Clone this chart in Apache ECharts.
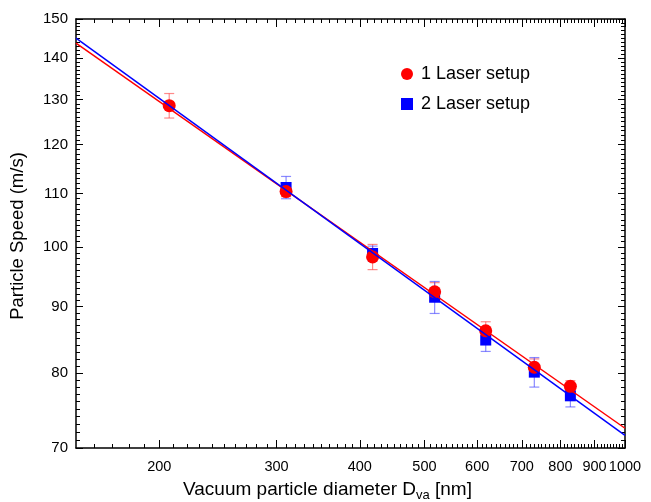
<!DOCTYPE html>
<html><head><meta charset="utf-8">
<script src="https://cdn.jsdelivr.net/npm/echarts@6/dist/echarts.min.js"></script>
<style>html,body{margin:0;padding:0;background:#fff}#c{width:651px;height:502px}</style>
</head><body><div id="c"></div>
<script>
// ---- data ----
const diam1 = [207, 310, 418, 518, 618, 731, 828];
const speed1 = [128.6, 110.4, 98.3, 92.4, 86.2, 80.8, 78.1];
const err1 = [2.8, 1.0, 2.2, 1.5, 1.4, 1.2, 0.8];
const diam2 = [310, 418, 518, 618, 731, 828];
const speed2 = [111.2, 98.9, 91.5, 84.8, 80.1, 76.8];
const err2 = [2.2, 1.3, 2.6, 1.7, 2.1, 1.5];
const fitX = [150, 1000];
const fit1 = [143.7, 72.5];
const fit2 = [145.0, 71.6];
const xTicks = [200, 300, 400, 500, 600, 700, 800, 900, 1000];
const yTicks = [70, 80, 90, 100, 110, 120, 130, 140, 150];
const xMinorTicks = [];
for (let v = 160; v < 1000; v += 10) if (xTicks.indexOf(v) < 0) xMinorTicks.push(v);
const yMinorTicks = [];
for (let v = 71; v < 150; v += 1) if (yTicks.indexOf(v) < 0) yMinorTicks.push(v);

const FONT = '"Liberation Sans", Arial, Helvetica, sans-serif';

function xAx(pos, ticks, len, showLabel, showLine) {
  return {
    type: 'log', logBase: 10, min: 150, max: 1000, position: pos,
    axisLine: { show: showLine, lineStyle: { color: '#000', width: 1.5 } },
    axisTick: { show: true, inside: true, length: len, customValues: ticks, lineStyle: { color: '#000', width: 1 } },
    axisLabel: { show: showLabel, customValues: ticks, margin: 11, color: '#000', fontSize: 14.5, fontFamily: FONT,
      formatter: v => String(Math.round(v)) },
    splitLine: { show: false }, minorTick: { show: false }, minorSplitLine: { show: false }
  };
}
function yAx(pos, ticks, len, showLabel, showLine) {
  return {
    type: 'log', logBase: 10, min: 70, max: 150, position: pos,
    axisLine: { show: showLine, lineStyle: { color: '#000', width: 1.5 } },
    axisTick: { show: true, inside: true, length: len, customValues: ticks, lineStyle: { color: '#000', width: 1 } },
    axisLabel: { show: showLabel, customValues: ticks, margin: 8, color: '#000', fontSize: 15, fontFamily: FONT,
      formatter: v => String(Math.round(v)) },
    splitLine: { show: false }, minorTick: { show: false }, minorSplitLine: { show: false }
  };
}

function errSeries(xs, ys, es, color, z) {
  return {
    type: 'custom', xAxisIndex: 0, yAxisIndex: 0, z: z, silent: true,
    data: xs.map((x, i) => [x, ys[i] - es[i], ys[i] + es[i]]),
    encode: { x: 0, y: [1, 2] },
    renderItem: (params, api) => {
      const lo = api.coord([api.value(0), api.value(1)]);
      const hi = api.coord([api.value(0), api.value(2)]);
      const w = 5;
      const st = { stroke: color, lineWidth: 1.2 };
      return { type: 'group', children: [
        { type: 'line', shape: { x1: lo[0], y1: lo[1], x2: hi[0], y2: hi[1] }, style: st },
        { type: 'line', shape: { x1: lo[0] - w, y1: lo[1], x2: lo[0] + w, y2: lo[1] }, style: st },
        { type: 'line', shape: { x1: hi[0] - w, y1: hi[1], x2: hi[0] + w, y2: hi[1] }, style: st }
      ] };
    }
  };
}

const chart = echarts.init(document.getElementById('c'), null, { renderer: 'canvas' });
chart.setOption({
  animation: false,
  backgroundColor: '#fff',
  grid: { left: 76, right: 26, top: 19, bottom: 54, containLabel: false, outerBoundsMode: 'none' },
  xAxis: [
    xAx('bottom', xTicks, 8, true, true),
    xAx('bottom', xMinorTicks, 4, false, false),
    xAx('top', xTicks, 8, false, true),
    xAx('top', xMinorTicks, 4, false, false)
  ],
  yAxis: [
    yAx('left', yTicks, 7, true, true),
    yAx('left', yMinorTicks, 4, false, false),
    yAx('right', yTicks, 7, false, true),
    yAx('right', yMinorTicks, 4, false, false)
  ],
  legend: {
    left: 396, top: 60, orient: 'vertical', itemWidth: 12, itemHeight: 12, itemGap: 12,
    data: [{ name: '1 Laser setup', icon: 'circle' }, { name: '2 Laser setup', icon: 'rect' }],
    textStyle: { fontSize: 18, lineHeight: 18, color: '#000', fontFamily: FONT, padding: [0, 0, 0, 3] },
    selectedMode: false
  },
  series: [
    errSeries(diam1, speed1, err1, 'rgba(255,60,60,0.6)', 2),
    errSeries(diam2, speed2, err2, 'rgba(60,60,255,0.6)', 3),
    { name: '2 Laser setup', type: 'scatter', xAxisIndex: 0, yAxisIndex: 0, z: 4,
      symbol: 'rect', symbolSize: 11, itemStyle: { color: '#0000ff', opacity: 1 },
      data: diam2.map((x, i) => [x, speed2[i]]) },
    { name: '1 Laser setup', type: 'scatter', xAxisIndex: 0, yAxisIndex: 0, z: 5,
      symbol: 'circle', symbolSize: 13, itemStyle: { color: '#ff0000', opacity: 1 },
      data: diam1.map((x, i) => [x, speed1[i]]) },
    { type: 'line', xAxisIndex: 0, yAxisIndex: 0, z: 6, silent: true, symbol: 'none',
      lineStyle: { color: '#ff0000', width: 1.5 }, data: fitX.map((x, i) => [x, fit1[i]]) },
    { type: 'line', xAxisIndex: 0, yAxisIndex: 0, z: 7, silent: true, symbol: 'none',
      lineStyle: { color: '#0000ff', width: 1.5 }, data: fitX.map((x, i) => [x, fit2[i]]) }
  ],
  graphic: [
    { type: 'text', x: 18, y: 236, rotation: Math.PI / 2,
      style: { text: 'Particle Speed (m/s)', fontSize: 18.5, fontFamily: FONT, fill: '#000',
        textAlign: 'center', textVerticalAlign: 'middle' } },
    { type: 'text', x: 183, y: 490,
      style: { text: '{m|Vacuum particle diameter D}{s|va}{m| [nm]}', fill: '#000',
        textAlign: 'left', textVerticalAlign: 'middle',
        rich: {
          m: { fontSize: 19, fontFamily: FONT, lineHeight: 24, fill: '#000', color: '#000' },
          s: { fontSize: 13, fontFamily: FONT, lineHeight: 12, verticalAlign: 'bottom', fill: '#000', color: '#000' }
        } } }
  ]
});
</script></body></html>
